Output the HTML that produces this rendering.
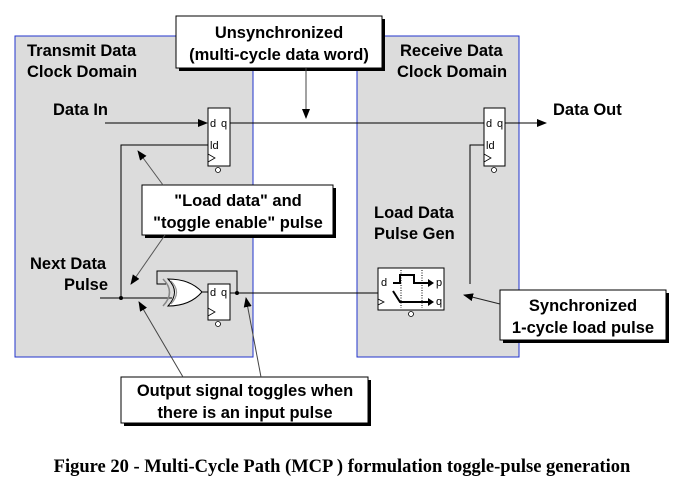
<!DOCTYPE html>
<html><head><style>
html,body{margin:0;padding:0;background:#fff;width:676px;height:481px;overflow:hidden}
text{font-family:"Liberation Sans",Arial,sans-serif;font-weight:bold}
.s{font-size:11px;font-weight:normal}
</style></head><body>
<svg width="676" height="481" xmlns="http://www.w3.org/2000/svg">
<defs>
<marker id="a" markerWidth="10" markerHeight="8" refX="9" refY="4" orient="auto" markerUnits="userSpaceOnUse"><path d="M0,0 L10,4 L0,8 Z" fill="#000"/></marker>
</defs>
<rect x="15" y="36" width="238" height="321" fill="#dcdcdc" stroke="#2233cc" stroke-width="1"/>
<rect x="357" y="36" width="162" height="321" fill="#dcdcdc" stroke="#2233cc" stroke-width="1"/>
<g font-size="16.5">
<text x="27" y="56">Transmit Data</text>
<text x="27" y="77">Clock Domain</text>
<text x="400" y="56">Receive Data</text>
<text x="397" y="77">Clock Domain</text>
<text x="53" y="115">Data In</text>
<text x="553" y="115">Data Out</text>
<text x="30" y="269">Next Data</text>
<text x="64" y="290">Pulse</text>
<text x="374" y="218">Load Data</text>
<text x="374" y="239">Pulse Gen</text>
</g>
<line x1="105" y1="123" x2="207" y2="123" stroke="#000" marker-end="url(#a)"/>
<line x1="230" y1="123" x2="484" y2="123" stroke="#000"/>
<line x1="505" y1="123" x2="546" y2="123" stroke="#000" marker-end="url(#a)"/>
<rect x="208" y="108" width="22" height="58" fill="#fff" stroke="#000"/>
<text x="210" y="127" class="s">d</text><text x="221" y="127" class="s">q</text>
<text x="210" y="149" class="s">ld</text>
<path d="M208,154 L215,158 L208,162" fill="none" stroke="#000" stroke-width="0.8"/>
<circle cx="218" cy="170" r="2.5" fill="#fff" stroke="#000" stroke-width="0.8"/>
<rect x="484" y="108" width="21" height="58" fill="#fff" stroke="#000"/>
<text x="486" y="127" class="s">d</text><text x="497" y="127" class="s">q</text>
<text x="486" y="149" class="s">ld</text>
<path d="M484,154 L491,158 L484,162" fill="none" stroke="#000" stroke-width="0.8"/>
<circle cx="494" cy="170" r="2.5" fill="#fff" stroke="#000" stroke-width="0.8"/>
<polyline points="208,145 121,145 121,298" fill="none" stroke="#000"/>
<polyline points="484,145 470,145 470,284" fill="none" stroke="#000"/>
<line x1="100" y1="298" x2="172" y2="298" stroke="#000"/>
<circle cx="121" cy="298" r="2" fill="#000"/>
<path d="M163,279 Q176,292 163,306" fill="none" stroke="#888" stroke-width="1.5"/>
<path d="M168,279 Q181,292 168,306 Q190,306 202,292 Q190,279 168,279 Z" fill="#fff" stroke="#000"/>
<path d="M171,281 Q182,292 171,304" fill="none" stroke="#999" stroke-width="1.2"/>
<line x1="202" y1="292" x2="208" y2="292" stroke="#000"/>
<rect x="208" y="284" width="22" height="36" fill="#fff" stroke="#000"/>
<text x="210" y="296" class="s">d</text><text x="221" y="296" class="s">q</text>
<path d="M208,308 L215,312 L208,316" fill="none" stroke="#000" stroke-width="0.8"/>
<circle cx="218" cy="324" r="2.5" fill="#fff" stroke="#000" stroke-width="0.8"/>
<polyline points="237,293 237,271 157,271 157,284 166,284" fill="none" stroke="#000"/>
<line x1="230" y1="293" x2="378" y2="293" stroke="#000"/>
<circle cx="237" cy="293" r="2" fill="#000"/>
<rect x="378" y="268" width="66" height="42" fill="#fff" stroke="#000"/>
<text x="381" y="286" class="s">d</text><text x="436" y="286" class="s">p</text><text x="436" y="305" class="s">q</text>
<line x1="401" y1="270" x2="401" y2="308" stroke="#000" stroke-dasharray="1,1.5"/>
<line x1="422" y1="270" x2="422" y2="308" stroke="#000" stroke-dasharray="1,1.5"/>
<polyline points="393,283 400,283 400,275 414,275 414,283 432,283" fill="none" stroke="#000" stroke-width="2"/>
<path d="M428,279 L434,283 L428,287 Z" fill="#000"/>
<polyline points="393,291 400,302 432,302" fill="none" stroke="#000" stroke-width="2"/>
<path d="M428,298 L434,302 L428,306 Z" fill="#000"/>
<path d="M378,299 L384,302 L378,305" fill="none" stroke="#000" stroke-width="0.8"/>
<circle cx="411" cy="314" r="2.5" fill="#fff" stroke="#000" stroke-width="0.8"/>
<g font-size="16.5" text-anchor="middle">
<rect x="179" y="19" width="206" height="52" fill="#000"/>
<rect x="176" y="16" width="206" height="52" fill="#fff" stroke="#000"/>
<text x="279" y="38">Unsynchronized</text>
<text x="279" y="60">(multi-cycle data word)</text>
<line x1="306" y1="68" x2="306" y2="118" stroke="#444" marker-end="url(#a)"/>
<rect x="145" y="188" width="191" height="50" fill="#000"/>
<rect x="142" y="185" width="191" height="50" fill="#fff" stroke="#000"/>
<text x="238" y="206">"Load data" and</text>
<text x="238" y="228">"toggle enable" pulse</text>
<line x1="163" y1="185" x2="138" y2="151" stroke="#555" marker-end="url(#a)"/>
<line x1="165" y1="235" x2="131" y2="284" stroke="#555" marker-end="url(#a)"/>
<rect x="503" y="293" width="166" height="50" fill="#000"/>
<rect x="500" y="290" width="166" height="50" fill="#fff" stroke="#000"/>
<text x="583" y="311">Synchronized</text>
<text x="583" y="333">1-cycle load pulse</text>
<line x1="500" y1="304" x2="464" y2="295" stroke="#222" marker-end="url(#a)"/>
<rect x="124" y="380" width="247" height="46" fill="#000"/>
<rect x="121" y="377" width="247" height="46" fill="#fff" stroke="#000"/>
<text x="245" y="396">Output signal toggles when</text>
<text x="245" y="418">there is an input pulse</text>
<line x1="183" y1="377" x2="139" y2="302" stroke="#444" marker-end="url(#a)"/>
<line x1="261" y1="377" x2="246" y2="298" stroke="#444" marker-end="url(#a)"/>
</g>
<text x="342" y="472" font-size="18.5" text-anchor="middle" style="font-family:'Liberation Serif',serif">Figure 20 - Multi-Cycle Path (MCP ) formulation toggle-pulse generation</text>
</svg>
</body></html>
